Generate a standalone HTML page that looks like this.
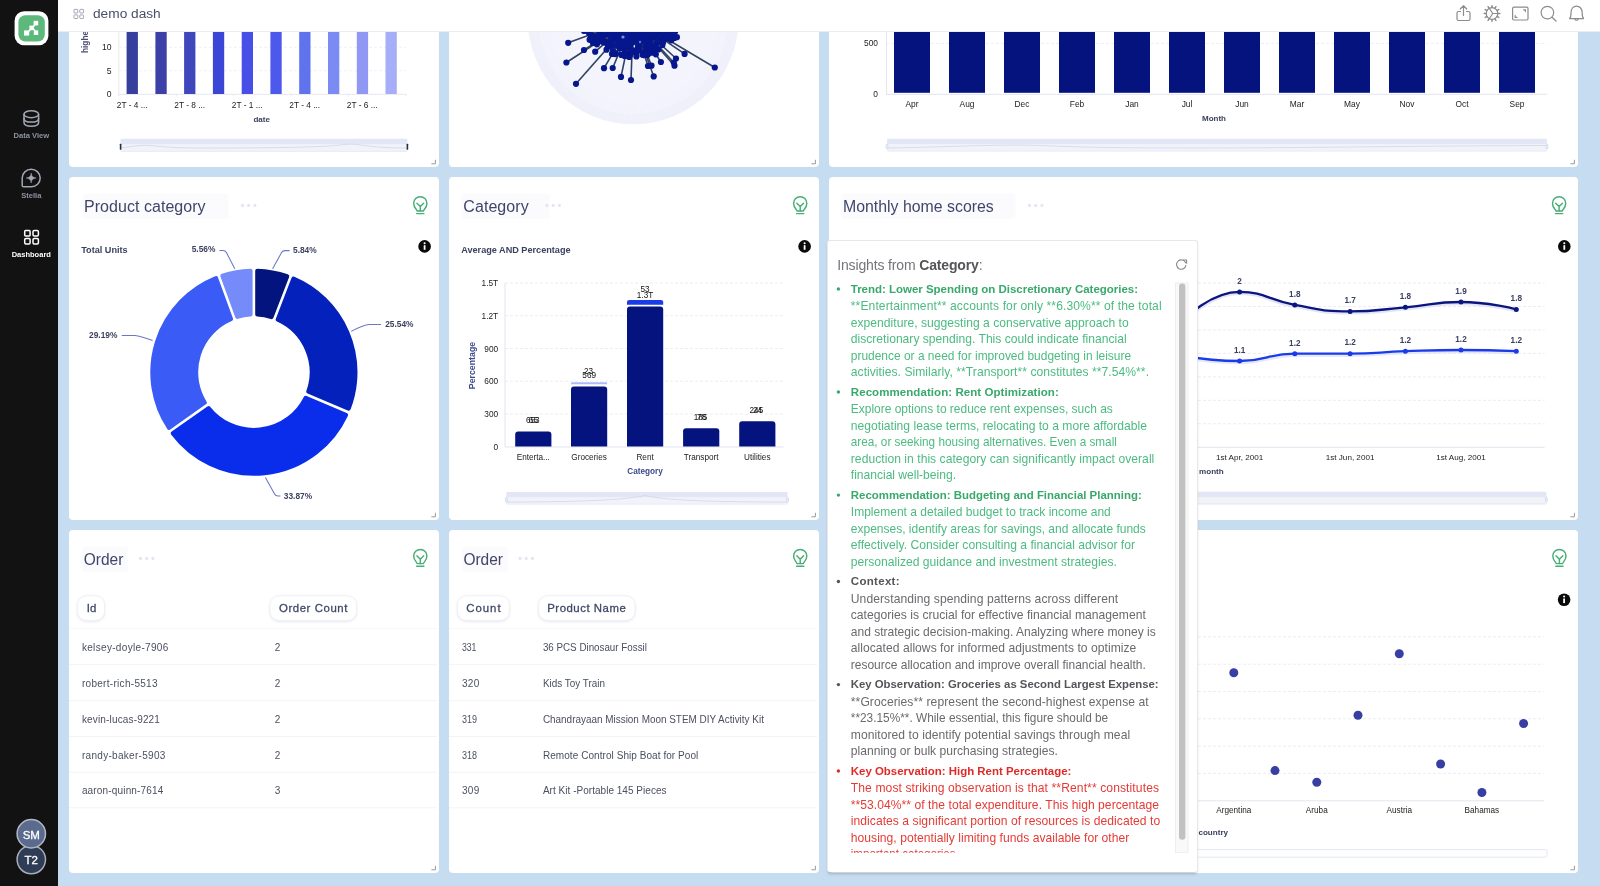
<!DOCTYPE html><html><head><meta charset="utf-8"><title>demo dash</title><style>*{box-sizing:border-box;margin:0;padding:0}
html,body{width:1600px;height:886px;overflow:hidden}
body{background:#c6dcf1;font-family:"Liberation Sans",sans-serif;position:relative;color:#3b4160}
.abs{position:absolute}
#side{left:0;top:0;width:58px;height:886px;background:#121212}
#top{left:58px;top:0;width:1542px;height:32px;background:#fff;border-bottom:1px solid #ededf0}
.panel{position:absolute;background:#fff;border-radius:4px}
.ttl{position:absolute;font-size:15.5px;color:#3f4563;white-space:nowrap}
.t{position:absolute;white-space:nowrap;line-height:1}
svg.ov{position:absolute;left:0;top:0;overflow:visible;will-change:transform;font-family:"Liberation Sans",sans-serif}
</style></head><body>
<div class="panel" style="left:68.5px;top:20px;width:370.0px;height:147px"></div>
<div class="panel" style="left:448.5px;top:20px;width:370.0px;height:147px"></div>
<div class="panel" style="left:828.5px;top:20px;width:749.0px;height:147px"></div>
<div class="panel" style="left:68.5px;top:177px;width:370.0px;height:343px"></div>
<div class="panel" style="left:448.5px;top:177px;width:370.0px;height:343px"></div>
<div class="panel" style="left:828.5px;top:177px;width:749.0px;height:343px"></div>
<div class="panel" style="left:68.5px;top:530px;width:370.0px;height:343px"></div>
<div class="panel" style="left:448.5px;top:530px;width:370.0px;height:343px"></div>
<div class="panel" style="left:828.5px;top:530px;width:749.0px;height:343px"></div>
<svg class="ov" width="1600" height="886" viewBox="0 0 1600 886">
<g stroke="#f0f1f8" stroke-width="1" stroke-dasharray="3 2"><line x1="119" x2="406" y1="47.3" y2="47.3"/><line x1="119" x2="406" y1="70.8" y2="70.8"/></g>
<line x1="118.8" x2="118.8" y1="31" y2="96" stroke="#e6e8f1" stroke-width="1"/>
<line x1="118.8" x2="406" y1="94.3" y2="94.3" stroke="#e6e8f1" stroke-width="1"/>
<path d="M118.8 94.3v2M176.3 94.3v2M233.8 94.3v2M291.3 94.3v2M348.8 94.3v2M406.3 94.3v2" stroke="#e6e8f1"/>
<rect x="126.6" y="31" width="11.3" height="63" fill="#373f9c"/>
<rect x="155.4" y="31" width="11.3" height="63" fill="#3c41a8"/>
<rect x="184.1" y="31" width="11.3" height="63" fill="#3f47bd"/>
<rect x="212.9" y="31" width="11.3" height="63" fill="#3c46d6"/>
<rect x="241.7" y="31" width="11.3" height="63" fill="#474fe6"/>
<rect x="270.4" y="31" width="11.3" height="63" fill="#4d59ec"/>
<rect x="299.2" y="31" width="11.3" height="63" fill="#5f73ef"/>
<rect x="328.0" y="31" width="11.3" height="63" fill="#7a8cf3"/>
<rect x="356.8" y="31" width="11.3" height="63" fill="#9098f4"/>
<rect x="385.5" y="31" width="11.3" height="63" fill="#a6aef7"/>
<text x="111.5" y="47.3" font-size="8.6" fill="#222" font-weight="normal" text-anchor="end" dominant-baseline="central" >10</text>
<text x="111.5" y="70.8" font-size="8.6" fill="#222" font-weight="normal" text-anchor="end" dominant-baseline="central" >5</text>
<text x="111.5" y="94" font-size="8.6" fill="#222" font-weight="normal" text-anchor="end" dominant-baseline="central" >0</text>
<text x="132.2" y="105" font-size="8.3" fill="#222" font-weight="normal" text-anchor="middle" dominant-baseline="central" >2T - 4 ...</text>
<text x="189.7" y="105" font-size="8.3" fill="#222" font-weight="normal" text-anchor="middle" dominant-baseline="central" >2T - 8 ...</text>
<text x="247.2" y="105" font-size="8.3" fill="#222" font-weight="normal" text-anchor="middle" dominant-baseline="central" >2T - 1 ...</text>
<text x="304.7" y="105" font-size="8.3" fill="#222" font-weight="normal" text-anchor="middle" dominant-baseline="central" >2T - 4 ...</text>
<text x="362.2" y="105" font-size="8.3" fill="#222" font-weight="normal" text-anchor="middle" dominant-baseline="central" >2T - 6 ...</text>
<text x="261.7" y="119" font-size="8" fill="#3b4160" font-weight="bold" text-anchor="middle" dominant-baseline="central" >date</text>
<text transform="translate(84.5,53) rotate(-90)" font-size="8.3" font-weight="bold" fill="#4a4f74" dominant-baseline="central">highe</text>
<rect x="120.5" y="138.7" width="286.8" height="13.100000000000023" fill="#e3e7f5" rx="1"/><rect x="120.5" y="144.2" width="286.8" height="6.7" fill="#f2f3f9"/><path d="M121 148 C135 146,140 145,150 145.6 S170 148,200 148 S320 148,340 145 S360 148,407 148" fill="none" stroke="#cfd4ee" stroke-width="0.8"/><rect x="119.8" y="143.75" width="1.6" height="6" fill="#2b2f45" rx=".5"/><rect x="406.6" y="143.75" width="1.6" height="6" fill="#2b2f45" rx=".5"/>
<clipPath id="cp2"><rect x="448.5" y="31" width="370" height="136"/></clipPath>
<g clip-path="url(#cp2)">
<circle cx="633.2" cy="19" r="105.3" fill="#eeeefa"/>
<circle cx="633.2" cy="19" r="95" fill="#f1f1fc"/>
<circle cx="633.2" cy="19" r="84" fill="#f4f4fd"/>
<path d="M717.2 19.0L738.2 19.0M717.2 20.5L738.2 20.8M717.1 21.9L738.1 22.7M717.1 23.4L738.1 24.5M717.0 24.9L737.9 26.3M716.9 26.3L737.8 28.2M716.7 27.8L737.6 30.0M716.6 29.2L737.4 31.8M716.4 30.7L737.2 33.6M716.2 32.1L736.9 35.4M715.9 33.6L736.6 37.2M715.7 35.0L736.3 39.0M715.4 36.5L735.9 40.8M715.0 37.9L735.5 42.6M714.7 39.3L735.1 44.4M714.3 40.7L734.6 46.2M713.9 42.2L734.1 47.9M713.5 43.6L733.6 49.7M713.1 45.0L733.1 51.4M712.6 46.3L732.5 53.2M712.1 47.7L731.9 54.9M711.6 49.1L731.2 56.6M711.1 50.5L730.6 58.3M710.5 51.8L729.9 60.0M709.9 53.2L729.1 61.7M709.3 54.5L728.4 63.4M708.7 55.8L727.6 65.0M708.0 57.1L726.8 66.7M707.4 58.4L725.9 68.3M706.7 59.7L725.0 69.9M705.9 61.0L724.1 71.5M705.2 62.3L723.2 73.1M704.4 63.5L722.2 74.6M703.6 64.7L721.3 76.2M702.8 66.0L720.2 77.7M702.0 67.2L719.2 79.2M701.2 68.4L718.1 80.7M700.3 69.6L717.1 82.2M699.4 70.7L715.9 83.6M698.5 71.9L714.8 85.1M697.5 73.0L713.6 86.5M696.6 74.1L712.4 87.9M695.6 75.2L711.2 89.3M694.6 76.3L710.0 90.6M693.6 77.4L708.7 91.9M692.6 78.4L707.4 93.2M691.6 79.4L706.1 94.5M690.5 80.4L704.8 95.8M689.4 81.4L703.5 97.0M688.3 82.4L702.1 98.2M687.2 83.3L700.7 99.4M686.1 84.3L699.3 100.6M684.9 85.2L697.8 101.7M683.8 86.1L696.4 102.9M682.6 87.0L694.9 103.9M681.4 87.8L693.4 105.0M680.2 88.6L691.9 106.0M678.9 89.4L690.4 107.1M677.7 90.2L688.8 108.0M676.5 91.0L687.3 109.0M675.2 91.7L685.7 109.9M673.9 92.5L684.1 110.8M672.6 93.2L682.5 111.7M671.3 93.8L680.9 112.6M670.0 94.5L679.2 113.4M668.7 95.1L677.6 114.2M667.4 95.7L675.9 114.9M666.0 96.3L674.2 115.7M664.7 96.9L672.5 116.4M663.3 97.4L670.8 117.0M661.9 97.9L669.1 117.7M660.5 98.4L667.4 118.3M659.2 98.9L665.6 118.9M657.8 99.3L663.9 119.4M656.4 99.7L662.1 119.9M654.9 100.1L660.4 120.4M653.5 100.5L658.6 120.9M652.1 100.8L656.8 121.3M650.7 101.2L655.0 121.7M649.2 101.5L653.2 122.1M647.8 101.7L651.4 122.4M646.3 102.0L649.6 122.7M644.9 102.2L647.8 123.0M643.4 102.4L646.0 123.2M642.0 102.5L644.2 123.4M640.5 102.7L642.4 123.6M639.1 102.8L640.5 123.7M637.6 102.9L638.7 123.9M636.1 102.9L636.9 123.9M634.7 103.0L635.0 124.0M633.2 103.0L633.2 124.0M631.7 103.0L631.4 124.0M630.3 102.9L629.5 123.9M628.8 102.9L627.7 123.9M627.3 102.8L625.9 123.7M625.9 102.7L624.0 123.6M624.4 102.5L622.2 123.4M623.0 102.4L620.4 123.2M621.5 102.2L618.6 123.0M620.1 102.0L616.8 122.7M618.6 101.7L615.0 122.4M617.2 101.5L613.2 122.1M615.7 101.2L611.4 121.7M614.3 100.8L609.6 121.3M612.9 100.5L607.8 120.9M611.5 100.1L606.0 120.4M610.0 99.7L604.3 119.9M608.6 99.3L602.5 119.4M607.2 98.9L600.8 118.9M605.9 98.4L599.0 118.3M604.5 97.9L597.3 117.7M603.1 97.4L595.6 117.0M601.7 96.9L593.9 116.4M600.4 96.3L592.2 115.7M599.0 95.7L590.5 114.9M597.7 95.1L588.8 114.2M596.4 94.5L587.2 113.4M595.1 93.8L585.5 112.6M593.8 93.2L583.9 111.7M592.5 92.5L582.3 110.8M591.2 91.7L580.7 109.9M589.9 91.0L579.1 109.0M588.7 90.2L577.6 108.0M587.5 89.4L576.0 107.1M586.2 88.6L574.5 106.0M585.0 87.8L573.0 105.0M583.8 87.0L571.5 103.9M582.6 86.1L570.0 102.9M581.5 85.2L568.6 101.7M580.3 84.3L567.1 100.6M579.2 83.3L565.7 99.4M578.1 82.4L564.3 98.2M577.0 81.4L562.9 97.0M575.9 80.4L561.6 95.8M574.8 79.4L560.3 94.5M573.8 78.4L559.0 93.2M572.8 77.4L557.7 91.9M571.8 76.3L556.4 90.6M570.8 75.2L555.2 89.3M569.8 74.1L554.0 87.9M568.9 73.0L552.8 86.5M567.9 71.9L551.6 85.1M567.0 70.7L550.5 83.6M566.1 69.6L549.3 82.2M565.2 68.4L548.3 80.7M564.4 67.2L547.2 79.2M563.6 66.0L546.2 77.7M562.8 64.7L545.1 76.2M562.0 63.5L544.2 74.6M561.2 62.3L543.2 73.1M560.5 61.0L542.3 71.5M559.7 59.7L541.4 69.9M559.0 58.4L540.5 68.3M558.4 57.1L539.6 66.7M557.7 55.8L538.8 65.0M557.1 54.5L538.0 63.4M556.5 53.2L537.3 61.7M555.9 51.8L536.5 60.0M555.3 50.5L535.8 58.3M554.8 49.1L535.2 56.6M554.3 47.7L534.5 54.9M553.8 46.3L533.9 53.2M553.3 45.0L533.3 51.4M552.9 43.6L532.8 49.7M552.5 42.2L532.3 47.9M552.1 40.7L531.8 46.2M551.7 39.3L531.3 44.4M551.4 37.9L530.9 42.6M551.0 36.5L530.5 40.8M550.7 35.0L530.1 39.0M550.5 33.6L529.8 37.2M550.2 32.1L529.5 35.4M550.0 30.7L529.2 33.6M549.8 29.2L529.0 31.8M549.7 27.8L528.8 30.0M549.5 26.3L528.6 28.2M549.4 24.9L528.5 26.3M549.3 23.4L528.3 24.5M549.3 21.9L528.3 22.7M549.2 20.5L528.2 20.8" stroke="#ffffff" stroke-width=".5" opacity=".55"/>
<line x1="633.2" y1="19" x2="568.2" y2="42.8" stroke="#30415f" stroke-width="1.6"/>
<line x1="633.2" y1="19" x2="584" y2="50" stroke="#30415f" stroke-width="1.6"/>
<line x1="633.2" y1="19" x2="595.2" y2="51.7" stroke="#30415f" stroke-width="1.6"/>
<line x1="633.2" y1="19" x2="566.4" y2="62.5" stroke="#30415f" stroke-width="1.6"/>
<line x1="633.2" y1="19" x2="576" y2="83.8" stroke="#30415f" stroke-width="1.6"/>
<line x1="633.2" y1="19" x2="604" y2="68.2" stroke="#30415f" stroke-width="1.6"/>
<line x1="633.2" y1="19" x2="612.7" y2="68" stroke="#30415f" stroke-width="1.6"/>
<line x1="633.2" y1="19" x2="621" y2="76.9" stroke="#30415f" stroke-width="1.6"/>
<line x1="633.2" y1="19" x2="631" y2="80" stroke="#30415f" stroke-width="1.6"/>
<line x1="633.2" y1="19" x2="653.7" y2="76.4" stroke="#30415f" stroke-width="1.6"/>
<line x1="633.2" y1="19" x2="648" y2="66" stroke="#30415f" stroke-width="1.6"/>
<line x1="633.2" y1="19" x2="651.5" y2="65.7" stroke="#30415f" stroke-width="1.6"/>
<line x1="633.2" y1="19" x2="660.9" y2="62" stroke="#30415f" stroke-width="1.6"/>
<line x1="633.2" y1="19" x2="655.8" y2="54.3" stroke="#30415f" stroke-width="1.6"/>
<line x1="633.2" y1="19" x2="674.5" y2="65.7" stroke="#30415f" stroke-width="1.6"/>
<line x1="633.2" y1="19" x2="676" y2="58.5" stroke="#30415f" stroke-width="1.6"/>
<line x1="633.2" y1="19" x2="684.6" y2="53.9" stroke="#30415f" stroke-width="1.6"/>
<line x1="633.2" y1="19" x2="714.8" y2="67.5" stroke="#30415f" stroke-width="1.6"/>
<line x1="633.2" y1="19" x2="673.8" y2="62.5" stroke="#30415f" stroke-width="1.6"/>
<line x1="633.2" y1="19" x2="650.1" y2="41.6" stroke="#30415f" stroke-width="1.3"/>
<line x1="633.2" y1="19" x2="619.2" y2="41.4" stroke="#30415f" stroke-width="1.3"/>
<line x1="633.2" y1="19" x2="629.2" y2="47.8" stroke="#30415f" stroke-width="1.3"/>
<line x1="633.2" y1="19" x2="643.6" y2="54.0" stroke="#30415f" stroke-width="1.3"/>
<line x1="633.2" y1="19" x2="665.3" y2="31.8" stroke="#30415f" stroke-width="1.3"/>
<line x1="633.2" y1="19" x2="615.0" y2="54.1" stroke="#30415f" stroke-width="1.3"/>
<line x1="633.2" y1="19" x2="624.5" y2="47.7" stroke="#30415f" stroke-width="1.3"/>
<line x1="633.2" y1="19" x2="600.9" y2="33.4" stroke="#30415f" stroke-width="1.3"/>
<line x1="633.2" y1="19" x2="662.4" y2="32.3" stroke="#30415f" stroke-width="1.3"/>
<line x1="633.2" y1="19" x2="658.4" y2="49.4" stroke="#30415f" stroke-width="1.3"/>
<line x1="633.2" y1="19" x2="667.8" y2="38.7" stroke="#30415f" stroke-width="1.3"/>
<line x1="633.2" y1="19" x2="617.9" y2="45.8" stroke="#30415f" stroke-width="1.3"/>
<line x1="633.2" y1="19" x2="628.7" y2="43.3" stroke="#30415f" stroke-width="1.3"/>
<line x1="633.2" y1="19" x2="613.2" y2="45.0" stroke="#30415f" stroke-width="1.3"/>
<line x1="633.2" y1="19" x2="655.4" y2="46.8" stroke="#30415f" stroke-width="1.3"/>
<line x1="633.2" y1="19" x2="638.3" y2="46.8" stroke="#30415f" stroke-width="1.3"/>
<line x1="633.2" y1="19" x2="598.9" y2="41.6" stroke="#30415f" stroke-width="1.3"/>
<line x1="633.2" y1="19" x2="662.3" y2="42.8" stroke="#30415f" stroke-width="1.3"/>
<line x1="633.2" y1="19" x2="629.6" y2="55.4" stroke="#30415f" stroke-width="1.3"/>
<line x1="633.2" y1="19" x2="610.1" y2="41.1" stroke="#30415f" stroke-width="1.3"/>
<line x1="633.2" y1="19" x2="644.1" y2="52.8" stroke="#30415f" stroke-width="1.3"/>
<line x1="633.2" y1="19" x2="668.3" y2="35.7" stroke="#30415f" stroke-width="1.3"/>
<line x1="633.2" y1="19" x2="603.3" y2="42.3" stroke="#30415f" stroke-width="1.3"/>
<line x1="633.2" y1="19" x2="599.5" y2="32.4" stroke="#30415f" stroke-width="1.3"/>
<line x1="633.2" y1="19" x2="609.9" y2="46.4" stroke="#30415f" stroke-width="1.3"/>
<line x1="633.2" y1="19" x2="623.9" y2="48.5" stroke="#30415f" stroke-width="1.3"/>
<line x1="633.2" y1="19" x2="591.1" y2="40.1" stroke="#30415f" stroke-width="1.3"/>
<line x1="633.2" y1="19" x2="636.6" y2="52.3" stroke="#30415f" stroke-width="1.3"/>
<line x1="633.2" y1="19" x2="612.0" y2="53.9" stroke="#30415f" stroke-width="1.3"/>
<line x1="633.2" y1="19" x2="603.2" y2="35.8" stroke="#30415f" stroke-width="1.3"/>
<line x1="633.2" y1="19" x2="647.8" y2="50.7" stroke="#30415f" stroke-width="1.3"/>
<line x1="633.2" y1="19" x2="661.1" y2="33.7" stroke="#30415f" stroke-width="1.3"/>
<line x1="633.2" y1="19" x2="665.5" y2="32.3" stroke="#30415f" stroke-width="1.3"/>
<line x1="633.2" y1="19" x2="648.4" y2="53.7" stroke="#30415f" stroke-width="1.3"/>
<line x1="633.2" y1="19" x2="626.2" y2="55.3" stroke="#30415f" stroke-width="1.3"/>
<line x1="633.2" y1="19" x2="594.2" y2="41.2" stroke="#30415f" stroke-width="1.3"/>
<line x1="633.2" y1="19" x2="657.1" y2="42.9" stroke="#30415f" stroke-width="1.3"/>
<line x1="633.2" y1="19" x2="652.7" y2="52.7" stroke="#30415f" stroke-width="1.3"/>
<line x1="633.2" y1="19" x2="662.5" y2="35.2" stroke="#30415f" stroke-width="1.3"/>
<line x1="633.2" y1="19" x2="662.0" y2="41.2" stroke="#30415f" stroke-width="1.3"/>
<line x1="633.2" y1="19" x2="623.8" y2="45.6" stroke="#30415f" stroke-width="1.3"/>
<line x1="633.2" y1="19" x2="649.0" y2="48.7" stroke="#30415f" stroke-width="1.3"/>
<line x1="633.2" y1="19" x2="631.2" y2="51.7" stroke="#30415f" stroke-width="1.3"/>
<line x1="633.2" y1="19" x2="617.2" y2="40.4" stroke="#30415f" stroke-width="1.3"/>
<line x1="633.2" y1="19" x2="589.9" y2="33.5" stroke="#30415f" stroke-width="1.3"/>
<line x1="633.2" y1="19" x2="591.1" y2="35.9" stroke="#30415f" stroke-width="1.3"/>
<line x1="633.2" y1="19" x2="645.3" y2="47.1" stroke="#30415f" stroke-width="1.3"/>
<line x1="633.2" y1="19" x2="673.7" y2="32.9" stroke="#30415f" stroke-width="1.3"/>
<line x1="633.2" y1="19" x2="659.3" y2="36.5" stroke="#30415f" stroke-width="1.3"/>
<line x1="633.2" y1="19" x2="647.8" y2="40.9" stroke="#30415f" stroke-width="1.3"/>
<line x1="633.2" y1="19" x2="668.9" y2="31.1" stroke="#30415f" stroke-width="1.3"/>
<line x1="633.2" y1="19" x2="622.0" y2="43.4" stroke="#30415f" stroke-width="1.3"/>
<line x1="633.2" y1="19" x2="658.6" y2="40.8" stroke="#30415f" stroke-width="1.3"/>
<line x1="633.2" y1="19" x2="646.3" y2="42.5" stroke="#30415f" stroke-width="1.3"/>
<line x1="633.2" y1="19" x2="589.6" y2="39.7" stroke="#30415f" stroke-width="1.3"/>
<line x1="633.2" y1="19" x2="637.3" y2="49.6" stroke="#30415f" stroke-width="1.3"/>
<line x1="633.2" y1="19" x2="649.4" y2="43.8" stroke="#30415f" stroke-width="1.3"/>
<line x1="633.2" y1="19" x2="604.7" y2="34.3" stroke="#30415f" stroke-width="1.3"/>
<line x1="633.2" y1="19" x2="630.4" y2="44.7" stroke="#30415f" stroke-width="1.3"/>
<line x1="633.2" y1="19" x2="629.2" y2="42.8" stroke="#30415f" stroke-width="1.3"/>
<line x1="633.2" y1="19" x2="629.1" y2="56.9" stroke="#30415f" stroke-width="1.3"/>
<line x1="633.2" y1="19" x2="593.6" y2="36.1" stroke="#30415f" stroke-width="1.3"/>
<line x1="633.2" y1="19" x2="658.0" y2="41.5" stroke="#30415f" stroke-width="1.3"/>
<line x1="633.2" y1="19" x2="671.9" y2="39.3" stroke="#30415f" stroke-width="1.3"/>
<line x1="633.2" y1="19" x2="628.8" y2="53.9" stroke="#30415f" stroke-width="1.3"/>
<line x1="633.2" y1="19" x2="650.3" y2="42.8" stroke="#30415f" stroke-width="1.3"/>
<line x1="633.2" y1="19" x2="593.0" y2="42.9" stroke="#30415f" stroke-width="1.3"/>
<line x1="633.2" y1="19" x2="592.5" y2="37.9" stroke="#30415f" stroke-width="1.3"/>
<line x1="633.2" y1="19" x2="596.2" y2="40.2" stroke="#30415f" stroke-width="1.3"/>
<line x1="633.2" y1="19" x2="663.1" y2="41.2" stroke="#30415f" stroke-width="1.3"/>
<line x1="633.2" y1="19" x2="646.3" y2="41.0" stroke="#30415f" stroke-width="1.3"/>
<line x1="633.2" y1="19" x2="662.4" y2="45.1" stroke="#30415f" stroke-width="1.3"/>
<line x1="633.2" y1="19" x2="584.1" y2="31.0" stroke="#30415f" stroke-width="1.3"/>
<line x1="633.2" y1="19" x2="659.4" y2="37.8" stroke="#30415f" stroke-width="1.3"/>
<line x1="633.2" y1="19" x2="660.7" y2="36.2" stroke="#30415f" stroke-width="1.3"/>
<line x1="633.2" y1="19" x2="615.8" y2="53.6" stroke="#30415f" stroke-width="1.3"/>
<line x1="633.2" y1="19" x2="598.8" y2="36.2" stroke="#30415f" stroke-width="1.3"/>
<line x1="633.2" y1="19" x2="612.9" y2="51.1" stroke="#30415f" stroke-width="1.3"/>
<line x1="633.2" y1="19" x2="675.1" y2="31.4" stroke="#30415f" stroke-width="1.3"/>
<line x1="633.2" y1="19" x2="589.3" y2="32.6" stroke="#30415f" stroke-width="1.3"/>
<line x1="633.2" y1="19" x2="605.9" y2="42.1" stroke="#30415f" stroke-width="1.3"/>
<line x1="633.2" y1="19" x2="671.2" y2="40.3" stroke="#30415f" stroke-width="1.3"/>
<line x1="633.2" y1="19" x2="655.3" y2="50.4" stroke="#30415f" stroke-width="1.3"/>
<line x1="633.2" y1="19" x2="647.4" y2="55.1" stroke="#30415f" stroke-width="1.3"/>
<line x1="633.2" y1="19" x2="612.0" y2="39.9" stroke="#30415f" stroke-width="1.3"/>
<line x1="633.2" y1="19" x2="663.9" y2="31.5" stroke="#30415f" stroke-width="1.3"/>
<line x1="633.2" y1="19" x2="589.1" y2="33.2" stroke="#30415f" stroke-width="1.3"/>
<line x1="633.2" y1="19" x2="674.4" y2="38.0" stroke="#30415f" stroke-width="1.3"/>
<line x1="633.2" y1="19" x2="651.0" y2="47.8" stroke="#30415f" stroke-width="1.3"/>
<line x1="633.2" y1="19" x2="629.3" y2="56.3" stroke="#30415f" stroke-width="1.3"/>
<line x1="633.2" y1="19" x2="642.5" y2="54.8" stroke="#30415f" stroke-width="1.3"/>
<line x1="633.2" y1="19" x2="604.1" y2="34.9" stroke="#30415f" stroke-width="1.3"/>
<line x1="633.2" y1="19" x2="657.9" y2="40.2" stroke="#30415f" stroke-width="1.3"/>
<line x1="633.2" y1="19" x2="662.8" y2="42.8" stroke="#30415f" stroke-width="1.3"/>
<line x1="633.2" y1="19" x2="658.9" y2="42.0" stroke="#30415f" stroke-width="1.3"/>
<line x1="633.2" y1="19" x2="676.9" y2="37.2" stroke="#30415f" stroke-width="1.3"/>
<line x1="633.2" y1="19" x2="649.9" y2="46.7" stroke="#30415f" stroke-width="1.3"/>
<line x1="633.2" y1="19" x2="621.4" y2="54.9" stroke="#30415f" stroke-width="1.3"/>
<line x1="633.2" y1="19" x2="644.5" y2="55.2" stroke="#30415f" stroke-width="1.3"/>
<line x1="633.2" y1="19" x2="633.0" y2="50.4" stroke="#30415f" stroke-width="1.3"/>
<line x1="633.2" y1="19" x2="631.0" y2="42.8" stroke="#30415f" stroke-width="1.3"/>
<line x1="633.2" y1="19" x2="639.3" y2="44.9" stroke="#30415f" stroke-width="1.3"/>
<line x1="633.2" y1="19" x2="666.6" y2="37.1" stroke="#30415f" stroke-width="1.3"/>
<line x1="633.2" y1="19" x2="607.3" y2="44.4" stroke="#30415f" stroke-width="1.3"/>
<line x1="633.2" y1="19" x2="653.4" y2="46.4" stroke="#30415f" stroke-width="1.3"/>
<line x1="633.2" y1="19" x2="625.7" y2="53.7" stroke="#30415f" stroke-width="1.3"/>
<line x1="633.2" y1="19" x2="672.2" y2="32.7" stroke="#30415f" stroke-width="1.3"/>
<line x1="633.2" y1="19" x2="657.9" y2="39.8" stroke="#30415f" stroke-width="1.3"/>
<line x1="633.2" y1="19" x2="603.6" y2="41.1" stroke="#30415f" stroke-width="1.3"/>
<line x1="633.2" y1="19" x2="624.9" y2="53.3" stroke="#30415f" stroke-width="1.3"/>
<line x1="633.2" y1="19" x2="619.9" y2="48.5" stroke="#30415f" stroke-width="1.3"/>
<line x1="633.2" y1="19" x2="631.6" y2="52.8" stroke="#30415f" stroke-width="1.3"/>
<line x1="633.2" y1="19" x2="639.0" y2="50.2" stroke="#30415f" stroke-width="1.3"/>
<line x1="633.2" y1="19" x2="636.4" y2="56.4" stroke="#30415f" stroke-width="1.3"/>
<line x1="633.2" y1="19" x2="606.5" y2="49.7" stroke="#30415f" stroke-width="1.3"/>
<line x1="633.2" y1="19" x2="624.6" y2="56.0" stroke="#30415f" stroke-width="1.3"/>
<line x1="633.2" y1="19" x2="604.5" y2="33.4" stroke="#30415f" stroke-width="1.3"/>
<line x1="633.2" y1="19" x2="669.3" y2="33.1" stroke="#30415f" stroke-width="1.3"/>
<line x1="633.2" y1="19" x2="596.9" y2="44.3" stroke="#30415f" stroke-width="1.3"/>
<ellipse cx="633.2" cy="19" rx="36" ry="26" fill="#06168c"/>
<circle cx="650.1" cy="41.6" r="3.1" fill="#06168c"/>
<circle cx="619.2" cy="41.4" r="3.1" fill="#06168c"/>
<circle cx="629.2" cy="47.8" r="3.1" fill="#06168c"/>
<circle cx="643.6" cy="54.0" r="3.1" fill="#06168c"/>
<circle cx="665.3" cy="31.8" r="3.1" fill="#06168c"/>
<circle cx="615.0" cy="54.1" r="3.1" fill="#06168c"/>
<circle cx="624.5" cy="47.7" r="3.1" fill="#06168c"/>
<circle cx="600.9" cy="33.4" r="3.1" fill="#06168c"/>
<circle cx="662.4" cy="32.3" r="3.1" fill="#06168c"/>
<circle cx="658.4" cy="49.4" r="3.1" fill="#06168c"/>
<circle cx="667.8" cy="38.7" r="3.1" fill="#06168c"/>
<circle cx="617.9" cy="45.8" r="3.1" fill="#06168c"/>
<circle cx="628.7" cy="43.3" r="3.1" fill="#06168c"/>
<circle cx="613.2" cy="45.0" r="3.1" fill="#06168c"/>
<circle cx="655.4" cy="46.8" r="3.1" fill="#06168c"/>
<circle cx="638.3" cy="46.8" r="3.1" fill="#06168c"/>
<circle cx="598.9" cy="41.6" r="3.1" fill="#06168c"/>
<circle cx="662.3" cy="42.8" r="3.1" fill="#06168c"/>
<circle cx="629.6" cy="55.4" r="3.1" fill="#06168c"/>
<circle cx="610.1" cy="41.1" r="3.1" fill="#06168c"/>
<circle cx="644.1" cy="52.8" r="3.1" fill="#06168c"/>
<circle cx="668.3" cy="35.7" r="3.1" fill="#06168c"/>
<circle cx="603.3" cy="42.3" r="3.1" fill="#06168c"/>
<circle cx="599.5" cy="32.4" r="3.1" fill="#06168c"/>
<circle cx="609.9" cy="46.4" r="3.1" fill="#06168c"/>
<circle cx="623.9" cy="48.5" r="3.1" fill="#06168c"/>
<circle cx="591.1" cy="40.1" r="3.1" fill="#06168c"/>
<circle cx="636.6" cy="52.3" r="3.1" fill="#06168c"/>
<circle cx="612.0" cy="53.9" r="3.1" fill="#06168c"/>
<circle cx="603.2" cy="35.8" r="3.1" fill="#06168c"/>
<circle cx="647.8" cy="50.7" r="3.1" fill="#06168c"/>
<circle cx="661.1" cy="33.7" r="3.1" fill="#06168c"/>
<circle cx="665.5" cy="32.3" r="3.1" fill="#06168c"/>
<circle cx="648.4" cy="53.7" r="3.1" fill="#06168c"/>
<circle cx="626.2" cy="55.3" r="3.1" fill="#06168c"/>
<circle cx="594.2" cy="41.2" r="3.1" fill="#06168c"/>
<circle cx="657.1" cy="42.9" r="3.1" fill="#06168c"/>
<circle cx="652.7" cy="52.7" r="3.1" fill="#06168c"/>
<circle cx="662.5" cy="35.2" r="3.1" fill="#06168c"/>
<circle cx="662.0" cy="41.2" r="3.1" fill="#06168c"/>
<circle cx="623.8" cy="45.6" r="3.1" fill="#06168c"/>
<circle cx="649.0" cy="48.7" r="3.1" fill="#06168c"/>
<circle cx="631.2" cy="51.7" r="3.1" fill="#06168c"/>
<circle cx="617.2" cy="40.4" r="3.1" fill="#06168c"/>
<circle cx="589.9" cy="33.5" r="3.1" fill="#06168c"/>
<circle cx="591.1" cy="35.9" r="3.1" fill="#06168c"/>
<circle cx="645.3" cy="47.1" r="3.1" fill="#06168c"/>
<circle cx="673.7" cy="32.9" r="3.1" fill="#06168c"/>
<circle cx="659.3" cy="36.5" r="3.1" fill="#06168c"/>
<circle cx="647.8" cy="40.9" r="3.1" fill="#06168c"/>
<circle cx="668.9" cy="31.1" r="3.1" fill="#06168c"/>
<circle cx="622.0" cy="43.4" r="3.1" fill="#06168c"/>
<circle cx="658.6" cy="40.8" r="3.1" fill="#06168c"/>
<circle cx="646.3" cy="42.5" r="3.1" fill="#06168c"/>
<circle cx="589.6" cy="39.7" r="3.1" fill="#06168c"/>
<circle cx="637.3" cy="49.6" r="3.1" fill="#06168c"/>
<circle cx="649.4" cy="43.8" r="3.1" fill="#06168c"/>
<circle cx="604.7" cy="34.3" r="3.1" fill="#06168c"/>
<circle cx="630.4" cy="44.7" r="3.1" fill="#06168c"/>
<circle cx="629.2" cy="42.8" r="3.1" fill="#06168c"/>
<circle cx="629.1" cy="56.9" r="3.1" fill="#06168c"/>
<circle cx="593.6" cy="36.1" r="3.1" fill="#06168c"/>
<circle cx="658.0" cy="41.5" r="3.1" fill="#06168c"/>
<circle cx="671.9" cy="39.3" r="3.1" fill="#06168c"/>
<circle cx="628.8" cy="53.9" r="3.1" fill="#06168c"/>
<circle cx="650.3" cy="42.8" r="3.1" fill="#06168c"/>
<circle cx="593.0" cy="42.9" r="3.1" fill="#06168c"/>
<circle cx="592.5" cy="37.9" r="3.1" fill="#06168c"/>
<circle cx="596.2" cy="40.2" r="3.1" fill="#06168c"/>
<circle cx="663.1" cy="41.2" r="3.1" fill="#06168c"/>
<circle cx="646.3" cy="41.0" r="3.1" fill="#06168c"/>
<circle cx="662.4" cy="45.1" r="3.1" fill="#06168c"/>
<circle cx="584.1" cy="31.0" r="3.1" fill="#06168c"/>
<circle cx="659.4" cy="37.8" r="3.1" fill="#06168c"/>
<circle cx="660.7" cy="36.2" r="3.1" fill="#06168c"/>
<circle cx="615.8" cy="53.6" r="3.1" fill="#06168c"/>
<circle cx="598.8" cy="36.2" r="3.1" fill="#06168c"/>
<circle cx="612.9" cy="51.1" r="3.1" fill="#06168c"/>
<circle cx="675.1" cy="31.4" r="3.1" fill="#06168c"/>
<circle cx="589.3" cy="32.6" r="3.1" fill="#06168c"/>
<circle cx="605.9" cy="42.1" r="3.1" fill="#06168c"/>
<circle cx="671.2" cy="40.3" r="3.1" fill="#06168c"/>
<circle cx="655.3" cy="50.4" r="3.1" fill="#06168c"/>
<circle cx="647.4" cy="55.1" r="3.1" fill="#06168c"/>
<circle cx="612.0" cy="39.9" r="3.1" fill="#06168c"/>
<circle cx="663.9" cy="31.5" r="3.1" fill="#06168c"/>
<circle cx="589.1" cy="33.2" r="3.1" fill="#06168c"/>
<circle cx="674.4" cy="38.0" r="3.1" fill="#06168c"/>
<circle cx="651.0" cy="47.8" r="3.1" fill="#06168c"/>
<circle cx="629.3" cy="56.3" r="3.1" fill="#06168c"/>
<circle cx="642.5" cy="54.8" r="3.1" fill="#06168c"/>
<circle cx="604.1" cy="34.9" r="3.1" fill="#06168c"/>
<circle cx="657.9" cy="40.2" r="3.1" fill="#06168c"/>
<circle cx="662.8" cy="42.8" r="3.1" fill="#06168c"/>
<circle cx="658.9" cy="42.0" r="3.1" fill="#06168c"/>
<circle cx="676.9" cy="37.2" r="3.1" fill="#06168c"/>
<circle cx="649.9" cy="46.7" r="3.1" fill="#06168c"/>
<circle cx="621.4" cy="54.9" r="3.1" fill="#06168c"/>
<circle cx="644.5" cy="55.2" r="3.1" fill="#06168c"/>
<circle cx="633.0" cy="50.4" r="3.1" fill="#06168c"/>
<circle cx="631.0" cy="42.8" r="3.1" fill="#06168c"/>
<circle cx="639.3" cy="44.9" r="3.1" fill="#06168c"/>
<circle cx="666.6" cy="37.1" r="3.1" fill="#06168c"/>
<circle cx="607.3" cy="44.4" r="3.1" fill="#06168c"/>
<circle cx="653.4" cy="46.4" r="3.1" fill="#06168c"/>
<circle cx="625.7" cy="53.7" r="3.1" fill="#06168c"/>
<circle cx="672.2" cy="32.7" r="3.1" fill="#06168c"/>
<circle cx="657.9" cy="39.8" r="3.1" fill="#06168c"/>
<circle cx="603.6" cy="41.1" r="3.1" fill="#06168c"/>
<circle cx="624.9" cy="53.3" r="3.1" fill="#06168c"/>
<circle cx="619.9" cy="48.5" r="3.1" fill="#06168c"/>
<circle cx="631.6" cy="52.8" r="3.1" fill="#06168c"/>
<circle cx="639.0" cy="50.2" r="3.1" fill="#06168c"/>
<circle cx="636.4" cy="56.4" r="3.1" fill="#06168c"/>
<circle cx="606.5" cy="49.7" r="3.1" fill="#06168c"/>
<circle cx="624.6" cy="56.0" r="3.1" fill="#06168c"/>
<circle cx="604.5" cy="33.4" r="3.1" fill="#06168c"/>
<circle cx="669.3" cy="33.1" r="3.1" fill="#06168c"/>
<circle cx="596.9" cy="44.3" r="3.1" fill="#06168c"/>
<circle cx="568.2" cy="42.8" r="3.1" fill="#06168c"/>
<circle cx="584" cy="50" r="3.1" fill="#06168c"/>
<circle cx="595.2" cy="51.7" r="3.1" fill="#06168c"/>
<circle cx="566.4" cy="62.5" r="3.1" fill="#06168c"/>
<circle cx="576" cy="83.8" r="3.1" fill="#06168c"/>
<circle cx="604" cy="68.2" r="3.1" fill="#06168c"/>
<circle cx="612.7" cy="68" r="3.1" fill="#06168c"/>
<circle cx="621" cy="76.9" r="3.1" fill="#06168c"/>
<circle cx="631" cy="80" r="3.1" fill="#06168c"/>
<circle cx="653.7" cy="76.4" r="3.1" fill="#06168c"/>
<circle cx="648" cy="66" r="3.1" fill="#06168c"/>
<circle cx="651.5" cy="65.7" r="3.1" fill="#06168c"/>
<circle cx="660.9" cy="62" r="3.1" fill="#06168c"/>
<circle cx="655.8" cy="54.3" r="3.1" fill="#06168c"/>
<circle cx="674.5" cy="65.7" r="3.1" fill="#06168c"/>
<circle cx="676" cy="58.5" r="3.1" fill="#06168c"/>
<circle cx="684.6" cy="53.9" r="3.1" fill="#06168c"/>
<circle cx="714.8" cy="67.5" r="3.1" fill="#06168c"/>
<circle cx="673.8" cy="62.5" r="3.1" fill="#06168c"/>
<circle cx="623" cy="37" r="1.6" fill="#8a90d8"/><circle cx="640" cy="42" r="1.2" fill="#6d75c8"/>
</g>
<line x1="886" x2="1547" y1="43.4" y2="43.4" stroke="#eceef6" stroke-width="1" stroke-dasharray="3 2"/>
<line x1="886.5" x2="886.5" y1="31" y2="94.5" stroke="#e3e5ef"/>
<line x1="886" x2="1547" y1="94.3" y2="94.3" stroke="#e3e5ef"/>
<rect x="894.0" y="31" width="36" height="61.8" fill="#05137f"/>
<text x="912.0" y="104.4" font-size="8.4" fill="#222" font-weight="normal" text-anchor="middle" dominant-baseline="central" >Apr</text>
<rect x="949.0" y="31" width="36" height="61.8" fill="#05137f"/>
<text x="967.0" y="104.4" font-size="8.4" fill="#222" font-weight="normal" text-anchor="middle" dominant-baseline="central" >Aug</text>
<rect x="1004.0" y="31" width="36" height="61.8" fill="#05137f"/>
<text x="1022.0" y="104.4" font-size="8.4" fill="#222" font-weight="normal" text-anchor="middle" dominant-baseline="central" >Dec</text>
<rect x="1059.0" y="31" width="36" height="61.8" fill="#05137f"/>
<text x="1077.0" y="104.4" font-size="8.4" fill="#222" font-weight="normal" text-anchor="middle" dominant-baseline="central" >Feb</text>
<rect x="1114.0" y="31" width="36" height="61.8" fill="#05137f"/>
<text x="1132.0" y="104.4" font-size="8.4" fill="#222" font-weight="normal" text-anchor="middle" dominant-baseline="central" >Jan</text>
<rect x="1169.0" y="31" width="36" height="61.8" fill="#05137f"/>
<text x="1187.0" y="104.4" font-size="8.4" fill="#222" font-weight="normal" text-anchor="middle" dominant-baseline="central" >Jul</text>
<rect x="1224.0" y="31" width="36" height="61.8" fill="#05137f"/>
<text x="1242.0" y="104.4" font-size="8.4" fill="#222" font-weight="normal" text-anchor="middle" dominant-baseline="central" >Jun</text>
<rect x="1279.0" y="31" width="36" height="61.8" fill="#05137f"/>
<text x="1297.0" y="104.4" font-size="8.4" fill="#222" font-weight="normal" text-anchor="middle" dominant-baseline="central" >Mar</text>
<rect x="1334.0" y="31" width="36" height="61.8" fill="#05137f"/>
<text x="1352.0" y="104.4" font-size="8.4" fill="#222" font-weight="normal" text-anchor="middle" dominant-baseline="central" >May</text>
<rect x="1389.0" y="31" width="36" height="61.8" fill="#05137f"/>
<text x="1407.0" y="104.4" font-size="8.4" fill="#222" font-weight="normal" text-anchor="middle" dominant-baseline="central" >Nov</text>
<rect x="1444.0" y="31" width="36" height="61.8" fill="#05137f"/>
<text x="1462.0" y="104.4" font-size="8.4" fill="#222" font-weight="normal" text-anchor="middle" dominant-baseline="central" >Oct</text>
<rect x="1499.0" y="31" width="36" height="61.8" fill="#05137f"/>
<text x="1517.0" y="104.4" font-size="8.4" fill="#222" font-weight="normal" text-anchor="middle" dominant-baseline="central" >Sep</text>
<text x="878" y="43.4" font-size="8.4" fill="#222" font-weight="normal" text-anchor="end" dominant-baseline="central" >500</text>
<text x="878" y="94" font-size="8.4" fill="#222" font-weight="normal" text-anchor="end" dominant-baseline="central" >0</text>
<text x="1214" y="118.5" font-size="8" fill="#3b4160" font-weight="bold" text-anchor="middle" dominant-baseline="central" >Month</text>
<rect x="887" y="138.7" width="660" height="12.900000000000006" fill="#e3e7f5" rx="1"/><rect x="887" y="144.1" width="660" height="6.6" fill="#f2f3f9"/><path d="M888 148 C950 147,1000 144,1040 145.5 S1100 148,1200 148 S1400 146,1546 145.5" fill="none" stroke="#cfd4ee" stroke-width="0.8"/><ellipse cx="887" cy="146.64999999999998" rx="1" ry="2.6" fill="#eef0f8" stroke="#c5cbe6" stroke-width=".6"/><ellipse cx="1547" cy="146.64999999999998" rx="1" ry="2.6" fill="#eef0f8" stroke="#c5cbe6" stroke-width=".6"/>
</svg>
<svg class="ov" width="1600" height="886" viewBox="0 0 1600 886">
<path d="M431.4 163.8 H435.4 V159.8" fill="none" stroke="#9a9aa0" stroke-width="1"/>
<path d="M811.4 163.8 H815.4 V159.8" fill="none" stroke="#9a9aa0" stroke-width="1"/>
<path d="M1570.4 163.8 H1574.4 V159.8" fill="none" stroke="#9a9aa0" stroke-width="1"/>
<path d="M431.4 516.8 H435.4 V512.8" fill="none" stroke="#9a9aa0" stroke-width="1"/>
<path d="M811.4 516.8 H815.4 V512.8" fill="none" stroke="#9a9aa0" stroke-width="1"/>
<path d="M1570.4 516.8 H1574.4 V512.8" fill="none" stroke="#9a9aa0" stroke-width="1"/>
<path d="M431.4 869.8 H435.4 V865.8" fill="none" stroke="#9a9aa0" stroke-width="1"/>
<path d="M811.4 869.8 H815.4 V865.8" fill="none" stroke="#9a9aa0" stroke-width="1"/>
<path d="M1570.4 869.8 H1574.4 V865.8" fill="none" stroke="#9a9aa0" stroke-width="1"/>
<rect x="82.5" y="193.4" width="146" height="25.6" rx="3" fill="#fbfbfd"/><text x="84" y="206" font-size="16" fill="#40466a" font-weight="normal" text-anchor="start" dominant-baseline="central"  textLength="121.6" lengthAdjust="spacing">Product category</text><circle cx="242.5" cy="205.4" r="1.55" fill="#e2e5f4"/><circle cx="248.7" cy="205.4" r="1.55" fill="#e2e5f4"/><circle cx="254.9" cy="205.4" r="1.55" fill="#e2e5f4"/>
<g fill="none" stroke="#48ad76" stroke-width="1.45" stroke-linecap="round" stroke-linejoin="round"><path d="M417.1 211.0 C417.1 209.6,413.7 208.0,413.7 203.4 C413.7 199.4,416.7 196.8,420.3 196.8 S426.90000000000003 199.4,426.90000000000003 203.4 C426.90000000000003 208.0,423.5 209.6,423.5 211.0Z"/><path d="M416.90000000000003 203.20000000000002 L420.3 206.6 L423.7 203.20000000000002 M420.3 206.6 V210.8"/><path d="M416.7 213.6 H423.90000000000003"/></g>
<circle cx="424.6" cy="246.4" r="6.3" fill="#0a0a0a"/><rect x="423.70000000000005" y="245.20000000000002" width="1.8" height="4.6" fill="#fff"/><circle cx="424.6" cy="243.20000000000002" r="1.05" fill="#fff"/>
<text x="81.2" y="250.2" font-size="9.15" fill="#3b4160" font-weight="bold" text-anchor="start" dominant-baseline="central" >Total Units</text>
<path d="M257.40 270.86 A101.39999999999999 101.39999999999999 0 0 1 286.99 276.35 L271.37 317.00 A57.900000000000006 57.900000000000006 0 0 0 257.40 314.41Z" fill="#03147e" stroke="#03147e" stroke-width="4.4" stroke-linejoin="round"/>
<path d="M293.52 278.86 A101.39999999999999 101.39999999999999 0 0 1 348.57 408.52 L308.48 391.53 A57.900000000000006 57.900000000000006 0 0 0 277.90 319.51Z" fill="#0421bb" stroke="#0421bb" stroke-width="4.4" stroke-linejoin="round"/>
<path d="M345.84 414.97 A101.39999999999999 101.39999999999999 0 0 1 173.00 433.33 L208.63 408.29 A57.900000000000006 57.900000000000006 0 0 0 305.75 397.97Z" fill="#0a2ceb" stroke="#0a2ceb" stroke-width="4.4" stroke-linejoin="round"/>
<path d="M168.98 427.61 A101.39999999999999 101.39999999999999 0 0 1 215.93 278.18 L230.83 319.09 A57.900000000000006 57.900000000000006 0 0 0 204.60 402.57Z" fill="#3a5bf6" stroke="#3a5bf6" stroke-width="4.4" stroke-linejoin="round"/>
<path d="M222.50 275.78 A101.39999999999999 101.39999999999999 0 0 1 250.40 270.86 L250.40 314.41 A57.900000000000006 57.900000000000006 0 0 0 237.40 316.70Z" fill="#768bfa" stroke="#768bfa" stroke-width="4.4" stroke-linejoin="round"/>
<g fill="none" stroke="#6c76c8" stroke-width="1.05"><path d="M272.6 268.8 L281.6 252.4 Q282.6 250.6,285 250.6 H289.6"/><path d="M351.2 331.4 Q362 325.2,369 324.4 H381"/><path d="M265.4 477.6 L274.6 494 Q275.6 496,278 496 H280.4"/><path d="M152.6 340.6 Q140 336,135 335.5 H121.8"/><path d="M234.8 268.8 L226.4 252.4 Q225.4 250.4,223 250.4 H219.4"/></g>
<text x="293" y="250.3" font-size="8.35" fill="#3b4160" font-weight="bold" text-anchor="start" dominant-baseline="central" >5.84%</text>
<text x="385.2" y="323.8" font-size="8.35" fill="#3b4160" font-weight="bold" text-anchor="start" dominant-baseline="central" >25.54%</text>
<text x="283.8" y="496.4" font-size="8.35" fill="#3b4160" font-weight="bold" text-anchor="start" dominant-baseline="central" >33.87%</text>
<text x="117.4" y="335.4" font-size="8.35" fill="#3b4160" font-weight="bold" text-anchor="end" dominant-baseline="central" >29.19%</text>
<text x="215.4" y="249.2" font-size="8.35" fill="#3b4160" font-weight="bold" text-anchor="end" dominant-baseline="central" >5.56%</text>
<rect x="461.8" y="193.4" width="88" height="25.6" rx="3" fill="#fbfbfd"/><text x="463.3" y="206" font-size="16" fill="#40466a" font-weight="normal" text-anchor="start" dominant-baseline="central"  textLength="65.4" lengthAdjust="spacing">Category</text><circle cx="547.0" cy="205.4" r="1.55" fill="#e2e5f4"/><circle cx="553.2" cy="205.4" r="1.55" fill="#e2e5f4"/><circle cx="559.4" cy="205.4" r="1.55" fill="#e2e5f4"/>
<g fill="none" stroke="#48ad76" stroke-width="1.45" stroke-linecap="round" stroke-linejoin="round"><path d="M797.0 211.0 C797.0 209.6,793.6 208.0,793.6 203.4 C793.6 199.4,796.6 196.8,800.2 196.8 S806.8000000000001 199.4,806.8000000000001 203.4 C806.8000000000001 208.0,803.4000000000001 209.6,803.4000000000001 211.0Z"/><path d="M796.8000000000001 203.20000000000002 L800.2 206.6 L803.6 203.20000000000002 M800.2 206.6 V210.8"/><path d="M796.6 213.6 H803.8000000000001"/></g>
<circle cx="804.6" cy="246.4" r="6.3" fill="#0a0a0a"/><rect x="803.7" y="245.20000000000002" width="1.8" height="4.6" fill="#fff"/><circle cx="804.6" cy="243.20000000000002" r="1.05" fill="#fff"/>
<text x="461.2" y="250.2" font-size="9.15" fill="#3b4160" font-weight="bold" text-anchor="start" dominant-baseline="central" >Average AND Percentage</text>
<line x1="505" x2="783.5" y1="283" y2="283" stroke="#ecedf3" stroke-width="1" stroke-dasharray="3 2"/>
<line x1="505" x2="783.5" y1="315.7" y2="315.7" stroke="#ecedf3" stroke-width="1" stroke-dasharray="3 2"/>
<line x1="505" x2="783.5" y1="348.5" y2="348.5" stroke="#ecedf3" stroke-width="1" stroke-dasharray="3 2"/>
<line x1="505" x2="783.5" y1="381.2" y2="381.2" stroke="#ecedf3" stroke-width="1" stroke-dasharray="3 2"/>
<line x1="505" x2="783.5" y1="414" y2="414" stroke="#ecedf3" stroke-width="1" stroke-dasharray="3 2"/>
<line x1="505" x2="505" y1="283" y2="447" stroke="#e3e5ef"/><line x1="505" x2="783.5" y1="447" y2="447" stroke="#e3e5ef"/>
<text x="498.2" y="283" font-size="8.3" fill="#222" font-weight="normal" text-anchor="end" dominant-baseline="central" >1.5T</text>
<text x="498.2" y="315.7" font-size="8.3" fill="#222" font-weight="normal" text-anchor="end" dominant-baseline="central" >1.2T</text>
<text x="498.2" y="348.5" font-size="8.3" fill="#222" font-weight="normal" text-anchor="end" dominant-baseline="central" >900</text>
<text x="498.2" y="381.2" font-size="8.3" fill="#222" font-weight="normal" text-anchor="end" dominant-baseline="central" >600</text>
<text x="498.2" y="414" font-size="8.3" fill="#222" font-weight="normal" text-anchor="end" dominant-baseline="central" >300</text>
<text x="498.2" y="446.7" font-size="8.3" fill="#222" font-weight="normal" text-anchor="end" dominant-baseline="central" >0</text>
<text transform="translate(471.6,365.5) rotate(-90)" font-size="8.8" font-weight="bold" fill="#3b4a8a" text-anchor="middle" dominant-baseline="central">Percentage</text>
<path d="M515.2 446.4 V434.4 Q515.2 431.4,518.2 431.4 H548.4000000000001 Q551.4000000000001 431.4,551.4000000000001 434.4 V446.4Z" fill="#05137f"/>
<text x="533.3000000000001" y="457.5" font-size="8.2" fill="#222" font-weight="normal" text-anchor="middle" dominant-baseline="central" >Enterta...</text>
<path d="M571.0 446.4 V389.4 Q571.0 386.4,574.0 386.4 H604.2 Q607.2 386.4,607.2 389.4 V446.4Z" fill="#05137f"/>
<text x="589.1" y="457.5" font-size="8.2" fill="#222" font-weight="normal" text-anchor="middle" dominant-baseline="central" >Groceries</text>
<path d="M627.0 446.4 V309.4 Q627.0 306.4,630.0 306.4 H660.2 Q663.2 306.4,663.2 309.4 V446.4Z" fill="#05137f"/>
<text x="645.1" y="457.5" font-size="8.2" fill="#222" font-weight="normal" text-anchor="middle" dominant-baseline="central" >Rent</text>
<path d="M683.1 446.4 V431.2 Q683.1 428.2,686.1 428.2 H716.3000000000001 Q719.3000000000001 428.2,719.3000000000001 431.2 V446.4Z" fill="#05137f"/>
<text x="701.2" y="457.5" font-size="8.2" fill="#222" font-weight="normal" text-anchor="middle" dominant-baseline="central" >Transport</text>
<path d="M739.2 446.4 V424.2 Q739.2 421.2,742.2 421.2 H772.4000000000001 Q775.4000000000001 421.2,775.4000000000001 424.2 V446.4Z" fill="#05137f"/>
<text x="757.3000000000001" y="457.5" font-size="8.2" fill="#222" font-weight="normal" text-anchor="middle" dominant-baseline="central" >Utilities</text>
<path d="M571 384.2 V383.4 Q571 382.3,572.4 382.3 H605.8 Q607.2 382.3,607.2 383.4 V384.2Z" fill="#aeb9f6"/>
<path d="M627 304.8 V302.4 Q627 300,629.6 300 H660.6 Q663.2 300,663.2 302.4 V304.8Z" fill="#1a3be6"/>
<text x="532.8" y="420.8" font-size="8.2" fill="#111" font-weight="normal" text-anchor="middle" dominant-baseline="central" >653</text>
<text x="533.4" y="420.8" font-size="8.2" fill="#111" font-weight="normal" text-anchor="middle" dominant-baseline="central" >65</text>
<text x="588.6" y="371.6" font-size="8.2" fill="#111" font-weight="normal" text-anchor="middle" dominant-baseline="central" >23</text>
<text x="589.2" y="375.4" font-size="8.2" fill="#111" font-weight="normal" text-anchor="middle" dominant-baseline="central" >569</text>
<text x="645" y="289.6" font-size="8.2" fill="#111" font-weight="normal" text-anchor="middle" dominant-baseline="central" >53</text>
<text x="645" y="295.8" font-size="8.2" fill="#111" font-weight="normal" text-anchor="middle" dominant-baseline="central" >1.3T</text>
<text x="700.6" y="417" font-size="8.2" fill="#111" font-weight="normal" text-anchor="middle" dominant-baseline="central" >185</text>
<text x="701.6" y="417" font-size="8.2" fill="#111" font-weight="normal" text-anchor="middle" dominant-baseline="central" >78</text>
<text x="756.4" y="410.6" font-size="8.2" fill="#111" font-weight="normal" text-anchor="middle" dominant-baseline="central" >245</text>
<text x="757.6" y="410.6" font-size="8.2" fill="#111" font-weight="normal" text-anchor="middle" dominant-baseline="central" >24</text>
<text x="645" y="471.6" font-size="8.2" fill="#3b4a8a" font-weight="bold" text-anchor="middle" dominant-baseline="central" >Category</text>
<rect x="506.4" y="492" width="281.20000000000005" height="12.600000000000023" fill="#e3e7f5" rx="1"/><rect x="506.4" y="497.3" width="281.20000000000005" height="6.4" fill="#f2f3f9"/><path d="M507 502 C580 502,625 500,645 495.5 C665 500,700 502,787 502" fill="none" stroke="#cfd4ee" stroke-width="0.8"/><ellipse cx="506.4" cy="499.8" rx="1" ry="2.6" fill="#eef0f8" stroke="#c5cbe6" stroke-width=".6"/><ellipse cx="787.6" cy="499.8" rx="1" ry="2.6" fill="#eef0f8" stroke="#c5cbe6" stroke-width=".6"/>
<rect x="841.5" y="193.4" width="174" height="25.6" rx="3" fill="#fbfbfd"/><text x="843" y="206" font-size="16" fill="#40466a" font-weight="normal" text-anchor="start" dominant-baseline="central"  textLength="150.8" lengthAdjust="spacingAndGlyphs">Monthly home scores</text><circle cx="1029.5" cy="205.4" r="1.55" fill="#e2e5f4"/><circle cx="1035.7" cy="205.4" r="1.55" fill="#e2e5f4"/><circle cx="1041.9" cy="205.4" r="1.55" fill="#e2e5f4"/>
<g fill="none" stroke="#48ad76" stroke-width="1.45" stroke-linecap="round" stroke-linejoin="round"><path d="M1555.8999999999999 211.0 C1555.8999999999999 209.6,1552.5 208.0,1552.5 203.4 C1552.5 199.4,1555.5 196.8,1559.1 196.8 S1565.6999999999998 199.4,1565.6999999999998 203.4 C1565.6999999999998 208.0,1562.3 209.6,1562.3 211.0Z"/><path d="M1555.6999999999998 203.20000000000002 L1559.1 206.6 L1562.5 203.20000000000002 M1559.1 206.6 V210.8"/><path d="M1555.5 213.6 H1562.6999999999998"/></g>
<circle cx="1564.3" cy="246.4" r="6.3" fill="#0a0a0a"/><rect x="1563.3999999999999" y="245.20000000000002" width="1.8" height="4.6" fill="#fff"/><circle cx="1564.3" cy="243.20000000000002" r="1.05" fill="#fff"/>
<line x1="1198" x2="1544.7" y1="283" y2="283" stroke="#ecedf3" stroke-width="1" stroke-dasharray="3 2"/>
<line x1="1198" x2="1544.7" y1="306.5" y2="306.5" stroke="#ecedf3" stroke-width="1" stroke-dasharray="3 2"/>
<line x1="1198" x2="1544.7" y1="330" y2="330" stroke="#ecedf3" stroke-width="1" stroke-dasharray="3 2"/>
<line x1="1198" x2="1544.7" y1="353.4" y2="353.4" stroke="#ecedf3" stroke-width="1" stroke-dasharray="3 2"/>
<line x1="1198" x2="1544.7" y1="376.9" y2="376.9" stroke="#ecedf3" stroke-width="1" stroke-dasharray="3 2"/>
<line x1="1198" x2="1544.7" y1="400.3" y2="400.3" stroke="#ecedf3" stroke-width="1" stroke-dasharray="3 2"/>
<line x1="1198" x2="1544.7" y1="423.8" y2="423.8" stroke="#ecedf3" stroke-width="1" stroke-dasharray="3 2"/>
<line x1="1198" x2="1544.7" y1="447.3" y2="447.3" stroke="#e3e5ef"/>
<path d="M1184.3 319 C1184.3 319.0,1210.8 291.9,1239.6 291.9 C1266.1 291.9,1266.9 300.0,1294.8 304.9 C1322.2 309.7,1322.4 311.4,1350.1 311.4 C1377.7 311.4,1377.8 309.6,1405.4 307.3 C1433.2 304.9,1433.3 302.0,1461 302 C1488.7 302.0,1516.3 309.4,1516.3 309.4" fill="none" stroke="#d8daf0" stroke-width="3.2" transform="translate(0,1.6)" opacity=".7"/>
<path d="M1184.3 356 C1184.3 356.0,1212.0 361.0,1239.6 361 C1267.3 361.0,1267.1 353.7,1294.8 353.7 C1322.3 353.7,1322.5 353.7,1350.1 353.7 C1377.8 353.7,1377.7 352.1,1405.4 351.2 C1433.2 350.3,1433.2 350.0,1461 350 C1488.7 350.0,1516.3 351.2,1516.3 351.2" fill="none" stroke="#d8def8" stroke-width="3.2" transform="translate(0,1.6)" opacity=".7"/>
<path d="M1184.3 319 C1184.3 319.0,1210.8 291.9,1239.6 291.9 C1266.1 291.9,1266.9 300.0,1294.8 304.9 C1322.2 309.7,1322.4 311.4,1350.1 311.4 C1377.7 311.4,1377.8 309.6,1405.4 307.3 C1433.2 304.9,1433.3 302.0,1461 302 C1488.7 302.0,1516.3 309.4,1516.3 309.4" fill="none" stroke="#0b1580" stroke-width="2.3"/>
<path d="M1184.3 356 C1184.3 356.0,1212.0 361.0,1239.6 361 C1267.3 361.0,1267.1 353.7,1294.8 353.7 C1322.3 353.7,1322.5 353.7,1350.1 353.7 C1377.8 353.7,1377.7 352.1,1405.4 351.2 C1433.2 350.3,1433.2 350.0,1461 350 C1488.7 350.0,1516.3 351.2,1516.3 351.2" fill="none" stroke="#1a3be6" stroke-width="2.3"/>
<circle cx="1239.6" cy="291.9" r="2.5" fill="#0b1580"/>
<circle cx="1294.8" cy="304.9" r="2.5" fill="#0b1580"/>
<circle cx="1350.1" cy="311.4" r="2.5" fill="#0b1580"/>
<circle cx="1405.4" cy="307.3" r="2.5" fill="#0b1580"/>
<circle cx="1461" cy="302" r="2.5" fill="#0b1580"/>
<circle cx="1516.3" cy="309.4" r="2.5" fill="#0b1580"/>
<circle cx="1239.6" cy="361" r="2.5" fill="#1a3be6"/>
<circle cx="1294.8" cy="353.7" r="2.5" fill="#1a3be6"/>
<circle cx="1350.1" cy="353.7" r="2.5" fill="#1a3be6"/>
<circle cx="1405.4" cy="351.2" r="2.5" fill="#1a3be6"/>
<circle cx="1461" cy="350" r="2.5" fill="#1a3be6"/>
<circle cx="1516.3" cy="351.2" r="2.5" fill="#1a3be6"/>
<text x="1239.6" y="281" font-size="8.2" fill="#3b4160" font-weight="bold" text-anchor="middle" dominant-baseline="central" >2</text>
<text x="1294.8" y="294" font-size="8.2" fill="#3b4160" font-weight="bold" text-anchor="middle" dominant-baseline="central" >1.8</text>
<text x="1350.1" y="300.4" font-size="8.2" fill="#3b4160" font-weight="bold" text-anchor="middle" dominant-baseline="central" >1.7</text>
<text x="1405.4" y="296.4" font-size="8.2" fill="#3b4160" font-weight="bold" text-anchor="middle" dominant-baseline="central" >1.8</text>
<text x="1461" y="291" font-size="8.2" fill="#3b4160" font-weight="bold" text-anchor="middle" dominant-baseline="central" >1.9</text>
<text x="1516.3" y="298.8" font-size="8.2" fill="#3b4160" font-weight="bold" text-anchor="middle" dominant-baseline="central" >1.8</text>
<text x="1239.6" y="350" font-size="8.2" fill="#3b4160" font-weight="bold" text-anchor="middle" dominant-baseline="central" >1.1</text>
<text x="1294.8" y="343" font-size="8.2" fill="#3b4160" font-weight="bold" text-anchor="middle" dominant-baseline="central" >1.2</text>
<text x="1350.1" y="342.7" font-size="8.2" fill="#3b4160" font-weight="bold" text-anchor="middle" dominant-baseline="central" >1.2</text>
<text x="1405.4" y="340.3" font-size="8.2" fill="#3b4160" font-weight="bold" text-anchor="middle" dominant-baseline="central" >1.2</text>
<text x="1461" y="339.4" font-size="8.2" fill="#3b4160" font-weight="bold" text-anchor="middle" dominant-baseline="central" >1.2</text>
<text x="1516.3" y="340.3" font-size="8.2" fill="#3b4160" font-weight="bold" text-anchor="middle" dominant-baseline="central" >1.2</text>
<text x="1239.6" y="457.4" font-size="8.1" fill="#222" font-weight="normal" text-anchor="middle" dominant-baseline="central" >1st Apr, 2001</text>
<text x="1350.1" y="457.4" font-size="8.1" fill="#222" font-weight="normal" text-anchor="middle" dominant-baseline="central" >1st Jun, 2001</text>
<text x="1461" y="457.4" font-size="8.1" fill="#222" font-weight="normal" text-anchor="middle" dominant-baseline="central" >1st Aug, 2001</text>
<text x="1199" y="471.6" font-size="8.1" fill="#3b4160" font-weight="bold" text-anchor="start" dominant-baseline="central" >month</text>
<rect x="887" y="491.8" width="659.4000000000001" height="12.599999999999966" fill="#e3e7f5" rx="1"/><rect x="887" y="497.1" width="659.4000000000001" height="6.4" fill="#f2f3f9"/><ellipse cx="887" cy="499.6" rx="1" ry="2.6" fill="#eef0f8" stroke="#c5cbe6" stroke-width=".6"/><ellipse cx="1546.4" cy="499.6" rx="1" ry="2.6" fill="#eef0f8" stroke="#c5cbe6" stroke-width=".6"/>
</svg>
<svg class="ov" width="1600" height="886" viewBox="0 0 1600 886">
<defs><filter id="ps" x="-10%" y="-20%" width="120%" height="150%"><feDropShadow dx="0" dy="1" stdDeviation="1.1" flood-color="#8c93b8" flood-opacity=".22"/></filter></defs>
<rect x="82.3" y="546.4" width="46" height="25.6" rx="3" fill="#fbfbfd"/><text x="83.8" y="559" font-size="16" fill="#40466a" font-weight="normal" text-anchor="start" dominant-baseline="central"  textLength="39.6" lengthAdjust="spacingAndGlyphs">Order</text><circle cx="140.5" cy="558.4" r="1.55" fill="#e2e5f4"/><circle cx="146.7" cy="558.4" r="1.55" fill="#e2e5f4"/><circle cx="152.9" cy="558.4" r="1.55" fill="#e2e5f4"/>
<g fill="none" stroke="#48ad76" stroke-width="1.45" stroke-linecap="round" stroke-linejoin="round"><path d="M417.1 563.6 C417.1 562.2,413.7 560.6,413.7 556 C413.7 552,416.7 549.4,420.3 549.4 S426.90000000000003 552,426.90000000000003 556 C426.90000000000003 560.6,423.5 562.2,423.5 563.6Z"/><path d="M416.90000000000003 555.8 L420.3 559.2 L423.7 555.8 M420.3 559.2 V563.4"/><path d="M416.7 566.2 H423.90000000000003"/></g>
<rect x="77.4" y="595.8" width="27.19999999999999" height="24.6" rx="9" fill="#fff" stroke="#eff0f6" stroke-width="1" filter="url(#ps)"/><text x="86.8" y="607.8" font-size="11.4" fill="#3f4666" font-weight="normal" text-anchor="start" dominant-baseline="central" stroke="#3f4666" stroke-width=".28">Id</text>
<rect x="270" y="595.8" width="86.60000000000002" height="24.6" rx="9" fill="#fff" stroke="#eff0f6" stroke-width="1" filter="url(#ps)"/><text x="279" y="607.8" font-size="11.4" fill="#3f4666" font-weight="normal" text-anchor="start" dominant-baseline="central" stroke="#3f4666" stroke-width=".28" textLength="68.4" lengthAdjust="spacing">Order Count</text>
<line x1="69" x2="437" y1="628.4" y2="628.4" stroke="#f8f8fb" stroke-width="1"/>
<line x1="69" x2="437" y1="664.6" y2="664.6" stroke="#f3f4f8" stroke-width="1"/>
<line x1="69" x2="437" y1="700.6" y2="700.6" stroke="#f3f4f8" stroke-width="1"/>
<line x1="69" x2="437" y1="736.5" y2="736.5" stroke="#f3f4f8" stroke-width="1"/>
<line x1="69" x2="437" y1="772.2" y2="772.2" stroke="#f3f4f8" stroke-width="1"/>
<line x1="69" x2="437" y1="807.8" y2="807.8" stroke="#f3f4f8" stroke-width="1"/>
<text x="81.9" y="647.7" font-size="10" fill="#4b4f60" font-weight="normal" text-anchor="start" dominant-baseline="central"  textLength="86.4" lengthAdjust="spacing">kelsey-doyle-7906</text>
<text x="274.8" y="647.7" font-size="10" fill="#4b4f60" font-weight="normal" text-anchor="start" dominant-baseline="central" >2</text>
<text x="81.9" y="683.4" font-size="10" fill="#4b4f60" font-weight="normal" text-anchor="start" dominant-baseline="central"  textLength="75.6" lengthAdjust="spacing">robert-rich-5513</text>
<text x="274.8" y="683.4" font-size="10" fill="#4b4f60" font-weight="normal" text-anchor="start" dominant-baseline="central" >2</text>
<text x="81.9" y="719.2" font-size="10" fill="#4b4f60" font-weight="normal" text-anchor="start" dominant-baseline="central"  textLength="78" lengthAdjust="spacing">kevin-lucas-9221</text>
<text x="274.8" y="719.2" font-size="10" fill="#4b4f60" font-weight="normal" text-anchor="start" dominant-baseline="central" >2</text>
<text x="81.9" y="755.1" font-size="10" fill="#4b4f60" font-weight="normal" text-anchor="start" dominant-baseline="central"  textLength="83.5" lengthAdjust="spacing">randy-baker-5903</text>
<text x="274.8" y="755.1" font-size="10" fill="#4b4f60" font-weight="normal" text-anchor="start" dominant-baseline="central" >2</text>
<text x="81.9" y="790.8" font-size="10" fill="#4b4f60" font-weight="normal" text-anchor="start" dominant-baseline="central"  textLength="81.4" lengthAdjust="spacing">aaron-quinn-7614</text>
<text x="274.8" y="790.8" font-size="10" fill="#4b4f60" font-weight="normal" text-anchor="start" dominant-baseline="central" >3</text>
<rect x="461.9" y="546.4" width="46" height="25.6" rx="3" fill="#fbfbfd"/><text x="463.4" y="559" font-size="16" fill="#40466a" font-weight="normal" text-anchor="start" dominant-baseline="central"  textLength="39.6" lengthAdjust="spacingAndGlyphs">Order</text><circle cx="520.0" cy="558.4" r="1.55" fill="#e2e5f4"/><circle cx="526.2" cy="558.4" r="1.55" fill="#e2e5f4"/><circle cx="532.4" cy="558.4" r="1.55" fill="#e2e5f4"/>
<g fill="none" stroke="#48ad76" stroke-width="1.45" stroke-linecap="round" stroke-linejoin="round"><path d="M797.0 563.6 C797.0 562.2,793.6 560.6,793.6 556 C793.6 552,796.6 549.4,800.2 549.4 S806.8000000000001 552,806.8000000000001 556 C806.8000000000001 560.6,803.4000000000001 562.2,803.4000000000001 563.6Z"/><path d="M796.8000000000001 555.8 L800.2 559.2 L803.6 555.8 M800.2 559.2 V563.4"/><path d="M796.6 566.2 H803.8000000000001"/></g>
<rect x="457.4" y="595.8" width="52.0" height="24.6" rx="9" fill="#fff" stroke="#eff0f6" stroke-width="1" filter="url(#ps)"/><text x="466.2" y="607.8" font-size="11.4" fill="#3f4666" font-weight="normal" text-anchor="start" dominant-baseline="central" stroke="#3f4666" stroke-width=".28" textLength="34.4" lengthAdjust="spacing">Count</text>
<rect x="538.4" y="595.8" width="96.60000000000002" height="24.6" rx="9" fill="#fff" stroke="#eff0f6" stroke-width="1" filter="url(#ps)"/><text x="547.2" y="607.8" font-size="11.4" fill="#3f4666" font-weight="normal" text-anchor="start" dominant-baseline="central" stroke="#3f4666" stroke-width=".28" textLength="78.6" lengthAdjust="spacing">Product Name</text>
<line x1="449" x2="817" y1="628.4" y2="628.4" stroke="#f8f8fb" stroke-width="1"/>
<line x1="449" x2="817" y1="664.6" y2="664.6" stroke="#f3f4f8" stroke-width="1"/>
<line x1="449" x2="817" y1="700.6" y2="700.6" stroke="#f3f4f8" stroke-width="1"/>
<line x1="449" x2="817" y1="736.5" y2="736.5" stroke="#f3f4f8" stroke-width="1"/>
<line x1="449" x2="817" y1="772.2" y2="772.2" stroke="#f3f4f8" stroke-width="1"/>
<line x1="449" x2="817" y1="807.8" y2="807.8" stroke="#f3f4f8" stroke-width="1"/>
<text x="461.9" y="647.7" font-size="10" fill="#4b4f60" font-weight="normal" text-anchor="start" dominant-baseline="central"  textLength="14.5" lengthAdjust="spacingAndGlyphs">331</text>
<text x="542.9" y="647.7" font-size="10" fill="#4b4f60" font-weight="normal" text-anchor="start" dominant-baseline="central"  textLength="104" lengthAdjust="spacingAndGlyphs">36 PCS Dinosaur Fossil</text>
<text x="461.9" y="683.4" font-size="10" fill="#4b4f60" font-weight="normal" text-anchor="start" dominant-baseline="central"  textLength="17.4" lengthAdjust="spacing">320</text>
<text x="542.9" y="683.4" font-size="10" fill="#4b4f60" font-weight="normal" text-anchor="start" dominant-baseline="central"  textLength="62" lengthAdjust="spacingAndGlyphs">Kids Toy Train</text>
<text x="461.9" y="719.2" font-size="10" fill="#4b4f60" font-weight="normal" text-anchor="start" dominant-baseline="central"  textLength="15" lengthAdjust="spacingAndGlyphs">319</text>
<text x="542.9" y="719.2" font-size="10" fill="#4b4f60" font-weight="normal" text-anchor="start" dominant-baseline="central"  textLength="221" lengthAdjust="spacingAndGlyphs">Chandrayaan Mission Moon STEM DIY Activity Kit</text>
<text x="461.9" y="755.1" font-size="10" fill="#4b4f60" font-weight="normal" text-anchor="start" dominant-baseline="central"  textLength="15" lengthAdjust="spacingAndGlyphs">318</text>
<text x="542.9" y="755.1" font-size="10" fill="#4b4f60" font-weight="normal" text-anchor="start" dominant-baseline="central"  textLength="155.4" lengthAdjust="spacing">Remote Control Ship Boat for Pool</text>
<text x="461.9" y="790.8" font-size="10" fill="#4b4f60" font-weight="normal" text-anchor="start" dominant-baseline="central"  textLength="17.4" lengthAdjust="spacing">309</text>
<text x="542.9" y="790.8" font-size="10" fill="#4b4f60" font-weight="normal" text-anchor="start" dominant-baseline="central"  textLength="123.6" lengthAdjust="spacing">Art Kit -Portable 145 Pieces</text>
<g fill="none" stroke="#48ad76" stroke-width="1.45" stroke-linecap="round" stroke-linejoin="round"><path d="M1556.2 563.6 C1556.2 562.2,1552.8000000000002 560.6,1552.8000000000002 556 C1552.8000000000002 552,1555.8000000000002 549.4,1559.4 549.4 S1566.0 552,1566.0 556 C1566.0 560.6,1562.6000000000001 562.2,1562.6000000000001 563.6Z"/><path d="M1556.0 555.8 L1559.4 559.2 L1562.8000000000002 555.8 M1559.4 559.2 V563.4"/><path d="M1555.8000000000002 566.2 H1563.0"/></g>
<circle cx="1564.1" cy="599.7" r="6.3" fill="#0a0a0a"/><rect x="1563.1999999999998" y="598.5" width="1.8" height="4.6" fill="#fff"/><circle cx="1564.1" cy="596.5" r="1.05" fill="#fff"/>
<line x1="1198" x2="1544.2" y1="636.8" y2="636.8" stroke="#ecedf3" stroke-width="1" stroke-dasharray="3 2"/>
<line x1="1198" x2="1544.2" y1="664.2" y2="664.2" stroke="#ecedf3" stroke-width="1" stroke-dasharray="3 2"/>
<line x1="1198" x2="1544.2" y1="691.5" y2="691.5" stroke="#ecedf3" stroke-width="1" stroke-dasharray="3 2"/>
<line x1="1198" x2="1544.2" y1="718.8" y2="718.8" stroke="#ecedf3" stroke-width="1" stroke-dasharray="3 2"/>
<line x1="1198" x2="1544.2" y1="746.1" y2="746.1" stroke="#ecedf3" stroke-width="1" stroke-dasharray="3 2"/>
<line x1="1198" x2="1544.2" y1="773.4" y2="773.4" stroke="#ecedf3" stroke-width="1" stroke-dasharray="3 2"/>
<line x1="1198" x2="1544.2" y1="800.8" y2="800.8" stroke="#e3e5ef"/>
<circle cx="1233.8" cy="672.8" r="4.5" fill="#393fa2"/>
<circle cx="1275" cy="770.6" r="4.5" fill="#393fa2"/>
<circle cx="1316.8" cy="782.2" r="4.5" fill="#393fa2"/>
<circle cx="1358" cy="715.3" r="4.5" fill="#393fa2"/>
<circle cx="1399.3" cy="653.8" r="4.5" fill="#393fa2"/>
<circle cx="1440.6" cy="764" r="4.5" fill="#393fa2"/>
<circle cx="1481.9" cy="792.5" r="4.5" fill="#393fa2"/>
<circle cx="1523.6" cy="723.5" r="4.5" fill="#393fa2"/>
<text x="1233.8" y="810.4" font-size="8.2" fill="#222" font-weight="normal" text-anchor="middle" dominant-baseline="central" >Argentina</text>
<text x="1316.8" y="810.4" font-size="8.2" fill="#222" font-weight="normal" text-anchor="middle" dominant-baseline="central" >Aruba</text>
<text x="1399.3" y="810.4" font-size="8.2" fill="#222" font-weight="normal" text-anchor="middle" dominant-baseline="central" >Austria</text>
<text x="1481.9" y="810.4" font-size="8.2" fill="#222" font-weight="normal" text-anchor="middle" dominant-baseline="central" >Bahamas</text>
<text x="1198.4" y="832.8" font-size="8.1" fill="#3b4160" font-weight="bold" text-anchor="start" dominant-baseline="central" >country</text>
<rect x="887" y="849.6" width="660" height="7.6" rx="1.5" fill="#fff" stroke="#e3e7f5" stroke-width="1"/>
</svg>
<div class="abs" style="left:827px;top:240px;width:371.4px;height:632.4px;background:#fff;border:1px solid #e7e7ea;border-bottom:none;border-radius:3px;box-shadow:0 3px 3px -1px rgba(60,70,90,.28)"></div>
<svg class="ov" width="1600" height="886" viewBox="0 0 1600 886">
<text x="837.2" y="264.8" font-size="14" fill="#74747a" dominant-baseline="central" textLength="145.4" lengthAdjust="spacing">Insights from <tspan font-weight="bold" fill="#55555a">Category</tspan>:</text>
<g fill="none" stroke="#8a8a8e" stroke-width="1.1" stroke-linecap="round" stroke-linejoin="round"><path d="M1185.6000000000001 262.8 A4.7 4.7 0 1 0 1185.9 265.20000000000005"/><path d="M1183.4 260.0 H1186.6000000000001 V263.20000000000005"/></g>
<rect x="1175.5" y="283" width="12.6" height="569.6" fill="#f9f9f9" stroke="#eeeeee" stroke-width="1"/>
<rect x="1179" y="283.6" width="6.4" height="556.2" rx="3.2" fill="#c1c1c1"/>
<clipPath id="cpp"><rect x="828" y="278" width="346" height="574.8"/></clipPath><g clip-path="url(#cpp)">
<circle cx="838.4" cy="289.00" r="1.7" fill="#39a96b"/>
<text x="850.8" y="288.6" font-size="11.5" fill="#39a96b" font-weight="bold" text-anchor="start" dominant-baseline="central"  textLength="287.2" lengthAdjust="spacing">Trend: Lower Spending on Discretionary Categories:</text>
<text x="850.8" y="306.0" font-size="12.1" fill="#4cbb80" font-weight="normal" text-anchor="start" dominant-baseline="central"  textLength="310.8" lengthAdjust="spacing">**Entertainment** accounts for only **6.30%** of the total</text>
<text x="850.8" y="322.6" font-size="12.1" fill="#4cbb80" font-weight="normal" text-anchor="start" dominant-baseline="central"  textLength="277.9" lengthAdjust="spacing">expenditure, suggesting a conservative approach to</text>
<text x="850.8" y="339.2" font-size="12.1" fill="#4cbb80" font-weight="normal" text-anchor="start" dominant-baseline="central"  textLength="275.8" lengthAdjust="spacing">discretionary spending. This could indicate financial</text>
<text x="850.8" y="355.8" font-size="12.1" fill="#4cbb80" font-weight="normal" text-anchor="start" dominant-baseline="central"  textLength="280.3" lengthAdjust="spacingAndGlyphs">prudence or a need for improved budgeting in leisure</text>
<text x="850.8" y="372.4" font-size="12.1" fill="#4cbb80" font-weight="normal" text-anchor="start" dominant-baseline="central"  textLength="298.2" lengthAdjust="spacing">activities. Similarly, **Transport** constitutes **7.54%**.</text>
<circle cx="838.4" cy="392.05" r="1.7" fill="#39a96b"/>
<text x="850.8" y="391.65" font-size="11.5" fill="#39a96b" font-weight="bold" text-anchor="start" dominant-baseline="central"  textLength="208" lengthAdjust="spacing">Recommendation: Rent Optimization:</text>
<text x="850.8" y="409.05" font-size="12.1" fill="#4cbb80" font-weight="normal" text-anchor="start" dominant-baseline="central"  textLength="262" lengthAdjust="spacingAndGlyphs">Explore options to reduce rent expenses, such as</text>
<text x="850.8" y="425.65" font-size="12.1" fill="#4cbb80" font-weight="normal" text-anchor="start" dominant-baseline="central"  textLength="296.2" lengthAdjust="spacing">negotiating lease terms, relocating to a more affordable</text>
<text x="850.8" y="442.25" font-size="12.1" fill="#4cbb80" font-weight="normal" text-anchor="start" dominant-baseline="central"  textLength="266.1" lengthAdjust="spacingAndGlyphs">area, or seeking housing alternatives. Even a small</text>
<text x="850.8" y="458.85" font-size="12.1" fill="#4cbb80" font-weight="normal" text-anchor="start" dominant-baseline="central"  textLength="303.5" lengthAdjust="spacing">reduction in this category can significantly impact overall</text>
<text x="850.8" y="475.45" font-size="12.1" fill="#4cbb80" font-weight="normal" text-anchor="start" dominant-baseline="central"  textLength="105.2" lengthAdjust="spacing">financial well-being.</text>
<circle cx="838.4" cy="495.10" r="1.7" fill="#39a96b"/>
<text x="850.8" y="494.7" font-size="11.5" fill="#39a96b" font-weight="bold" text-anchor="start" dominant-baseline="central"  textLength="290.9" lengthAdjust="spacingAndGlyphs">Recommendation: Budgeting and Financial Planning:</text>
<text x="850.8" y="512.1" font-size="12.1" fill="#4cbb80" font-weight="normal" text-anchor="start" dominant-baseline="central"  textLength="260" lengthAdjust="spacingAndGlyphs">Implement a detailed budget to track income and</text>
<text x="850.8" y="528.7" font-size="12.1" fill="#4cbb80" font-weight="normal" text-anchor="start" dominant-baseline="central"  textLength="295" lengthAdjust="spacingAndGlyphs">expenses, identify areas for savings, and allocate funds</text>
<text x="850.8" y="545.3" font-size="12.1" fill="#4cbb80" font-weight="normal" text-anchor="start" dominant-baseline="central"  textLength="284.2" lengthAdjust="spacing">effectively. Consider consulting a financial advisor for</text>
<text x="850.8" y="561.9" font-size="12.1" fill="#4cbb80" font-weight="normal" text-anchor="start" dominant-baseline="central"  textLength="266.1" lengthAdjust="spacing">personalized guidance and investment strategies.</text>
<circle cx="838.4" cy="581.55" r="1.7" fill="#55555a"/>
<text x="850.8" y="581.15" font-size="11.5" fill="#55555a" font-weight="bold" text-anchor="start" dominant-baseline="central"  textLength="48.8" lengthAdjust="spacing">Context:</text>
<text x="850.8" y="598.55" font-size="12.1" fill="#6a6a6f" font-weight="normal" text-anchor="start" dominant-baseline="central"  textLength="267.3" lengthAdjust="spacing">Understanding spending patterns across different</text>
<text x="850.8" y="615.15" font-size="12.1" fill="#6a6a6f" font-weight="normal" text-anchor="start" dominant-baseline="central"  textLength="295" lengthAdjust="spacing">categories is crucial for effective financial management</text>
<text x="850.8" y="631.75" font-size="12.1" fill="#6a6a6f" font-weight="normal" text-anchor="start" dominant-baseline="central"  textLength="304.9" lengthAdjust="spacingAndGlyphs">and strategic decision-making. Analyzing where money is</text>
<text x="850.8" y="648.35" font-size="12.1" fill="#6a6a6f" font-weight="normal" text-anchor="start" dominant-baseline="central"  textLength="285.5" lengthAdjust="spacing">allocated allows for informed adjustments to optimize</text>
<text x="850.8" y="664.95" font-size="12.1" fill="#6a6a6f" font-weight="normal" text-anchor="start" dominant-baseline="central"  textLength="295" lengthAdjust="spacingAndGlyphs">resource allocation and improve overall financial health.</text>
<circle cx="838.4" cy="684.60" r="1.7" fill="#55555a"/>
<text x="850.8" y="684.2" font-size="11.5" fill="#55555a" font-weight="bold" text-anchor="start" dominant-baseline="central"  textLength="307.8" lengthAdjust="spacingAndGlyphs">Key Observation: Groceries as Second Largest Expense:</text>
<text x="850.8" y="701.6" font-size="12.1" fill="#6a6a6f" font-weight="normal" text-anchor="start" dominant-baseline="central"  textLength="297.9" lengthAdjust="spacing">**Groceries** represent the second-highest expense at</text>
<text x="850.8" y="718.2" font-size="12.1" fill="#6a6a6f" font-weight="normal" text-anchor="start" dominant-baseline="central"  textLength="257.4" lengthAdjust="spacingAndGlyphs">**23.15%**. While essential, this figure should be</text>
<text x="850.8" y="734.8" font-size="12.1" fill="#6a6a6f" font-weight="normal" text-anchor="start" dominant-baseline="central"  textLength="279.3" lengthAdjust="spacing">monitored to identify potential savings through meal</text>
<text x="850.8" y="751.4" font-size="12.1" fill="#6a6a6f" font-weight="normal" text-anchor="start" dominant-baseline="central"  textLength="207" lengthAdjust="spacing">planning or bulk purchasing strategies.</text>
<circle cx="838.4" cy="771.05" r="1.7" fill="#e02a26"/>
<text x="850.8" y="770.65" font-size="11.5" fill="#e02a26" font-weight="bold" text-anchor="start" dominant-baseline="central"  textLength="220.6" lengthAdjust="spacingAndGlyphs">Key Observation: High Rent Percentage:</text>
<text x="850.8" y="788.05" font-size="12.1" fill="#e63a35" font-weight="normal" text-anchor="start" dominant-baseline="central"  textLength="308.2" lengthAdjust="spacing">The most striking observation is that **Rent** constitutes</text>
<text x="850.8" y="804.65" font-size="12.1" fill="#e63a35" font-weight="normal" text-anchor="start" dominant-baseline="central"  textLength="308.2" lengthAdjust="spacing">**53.04%** of the total expenditure. This high percentage</text>
<text x="850.8" y="821.25" font-size="12.1" fill="#e63a35" font-weight="normal" text-anchor="start" dominant-baseline="central"  textLength="309.4" lengthAdjust="spacing">indicates a significant portion of resources is dedicated to</text>
<text x="850.8" y="837.85" font-size="12.1" fill="#e63a35" font-weight="normal" text-anchor="start" dominant-baseline="central"  textLength="278.5" lengthAdjust="spacing">housing, potentially limiting funds available for other</text>
<text x="850.8" y="854.45" font-size="12.1" fill="#e63a35" font-weight="normal" text-anchor="start" dominant-baseline="central"  textLength="108" lengthAdjust="spacingAndGlyphs">important categories.</text>
</g></svg>
<div id="side" class="abs"></div>
<div id="top" class="abs"></div>
<svg class="ov" width="1600" height="886" viewBox="0 0 1600 886">
<rect x="14.6" y="11.2" width="33.8" height="34" rx="9.5" fill="#fff"/>
<rect x="18.4" y="15.2" width="26.4" height="26.4" rx="7" fill="#5cb87b"/>
<g fill="#fff"><rect x="33.6" y="20.8" width="4.6" height="4.6"/><rect x="29.4" y="25.6" width="4.4" height="4.6"/><rect x="24" y="30.4" width="5.2" height="5.2"/><rect x="33.8" y="30.4" width="4.4" height="4.6"/><path d="M27.6 31.6 L34.8 24 L35.8 25 L28.6 32.6Z"/><path d="M32.4 28.6 L33.4 27.8 L36.6 31.4 L35.6 32.2Z"/></g>
<g fill="none" stroke="#a3a6b4" stroke-width="1.5" stroke-linecap="round"><ellipse cx="31.3" cy="114.2" rx="7.3" ry="3.5"/><path d="M24 114.2 V122.6 C24 124.9,27.3 126.3,31.3 126.3 S38.6 124.9,38.6 122.6 V114.2"/><path d="M24 118.4 C24 120.7,27.3 122.1,31.3 122.1 S38.6 120.7,38.6 118.4"/></g>
<text x="31.3" y="135.6" font-size="7.6" fill="#8d91a2" font-weight="bold" text-anchor="middle" dominant-baseline="central" >Data View</text>
<path d="M31.2 169.3 C36.2 169.3,40.2 173.2,40.2 178 C40.2 182.9,36.2 186.8,31.2 186.8 H23.6 C22.6 186.8,22.2 186.2,22.2 185.4 V178 C22.2 173.2,26.2 169.3,31.2 169.3Z" fill="none" stroke="#a3a6b4" stroke-width="1.5"/>
<path d="M31.2 173 C31.7 176.4,32.8 177.5,36.2 178 C32.8 178.5,31.7 179.6,31.2 183 C30.7 179.6,29.6 178.5,26.2 178 C29.6 177.5,30.7 176.4,31.2 173Z" fill="#a3a6b4" stroke="#a3a6b4" stroke-width=".5"/>
<text x="31.3" y="195" font-size="7.6" fill="#8d91a2" font-weight="bold" text-anchor="middle" dominant-baseline="central" >Stella</text>
<g fill="none" stroke="#fff" stroke-width="1.5"><rect x="24.7" y="230.5" width="5.4" height="5.4" rx=".9"/><rect x="33" y="230.5" width="5.4" height="5.4" rx="1.2"/><rect x="24.7" y="238.6" width="5.4" height="5.4" rx="1.2"/><rect x="33" y="238.6" width="5.4" height="5.4" rx="1.2"/></g>
<text x="31.3" y="254" font-size="7.5" fill="#ffffff" font-weight="bold" text-anchor="middle" dominant-baseline="central" >Dashboard</text>
<circle cx="31.3" cy="859.6" r="14.2" fill="#2e3d55" stroke="#a9adba" stroke-width="1.5"/>
<text x="31.3" y="860.4" font-size="11.5" fill="#fff" font-weight="normal" text-anchor="middle" dominant-baseline="central" stroke="#fff" stroke-width=".3">T2</text>
<circle cx="31.3" cy="833.8" r="14.2" fill="#5a6b8e" stroke="#b4b8c6" stroke-width="1.5"/>
<text x="31.3" y="834.6" font-size="11.5" fill="#fff" font-weight="normal" text-anchor="middle" dominant-baseline="central" stroke="#fff" stroke-width=".3">SM</text>
<g fill="none" stroke="#a0a3b3" stroke-width="1"><rect x="74" y="9.4" width="3.8" height="3.6" rx=".7"/><rect x="79.8" y="9.4" width="3.8" height="3.6" rx=".7"/><rect x="74" y="14.9" width="3.8" height="3.6" rx=".7"/><rect x="79.8" y="14.9" width="3.8" height="3.6" rx=".7"/></g>
<text x="93" y="13.3" font-size="13.7" fill="#494e69" font-weight="normal" text-anchor="start" dominant-baseline="central" >demo dash</text>
<g fill="none" stroke="#8b8b90" stroke-width="1.2" stroke-linecap="round" stroke-linejoin="round">
<path d="M1460.5 11.5 H1458.5 C1457.6 11.5,1457 12.1,1457 13 V19 C1457 19.9,1457.6 20.5,1458.5 20.5 H1468.5 C1469.4 20.5,1470 19.9,1470 19 V13 C1470 12.1,1469.4 11.5,1468.5 11.5 H1466.5"/><path d="M1463.5 15.5 V5.8 M1460.3 9 L1463.5 5.6 L1466.7 9"/>
<circle cx="1492" cy="13.5" r="5.8"/><path d="M1498.0 13.5L1499.8 13.5M1497.2 16.6L1498.8 17.4M1495.0 18.9L1495.9 20.3M1492.0 19.7L1492.0 21.3M1489.0 18.9L1488.1 20.3M1486.8 16.6L1485.2 17.4M1486.0 13.5L1484.2 13.5M1486.8 10.4L1485.2 9.6M1489.0 8.1L1488.1 6.7M1492.0 7.3L1492.0 5.7M1495.0 8.1L1495.9 6.7M1497.2 10.4L1498.8 9.6" stroke-width="1.5"/><path d="M1497.8 13.5 H1492.8 L1489.4 8.5 M1492.8 13.5 L1489.4 18.5"/>
<rect x="1512.6" y="7.2" width="15.4" height="12.8" rx="1.2"/><path d="M1523.6 9.8 H1525.4 V11.6 M1517 17.4 H1515.2 V15.6"/>
<circle cx="1547.4" cy="12.6" r="6.3"/><path d="M1552 17.2 L1556 21"/>
<path d="M1569.6 18.6 H1583.6 C1582.4 17.4,1582.2 15.4,1582.2 12.8 C1582.2 8.8,1579.8 6.2,1576.6 6.2 S1571 8.8,1571 12.8 C1571 15.4,1570.8 17.4,1569.6 18.6Z"/><path d="M1575 19.2 C1575.2 20.6,1578 20.6,1578.2 19.2"/>
</g></svg>
</body></html>
